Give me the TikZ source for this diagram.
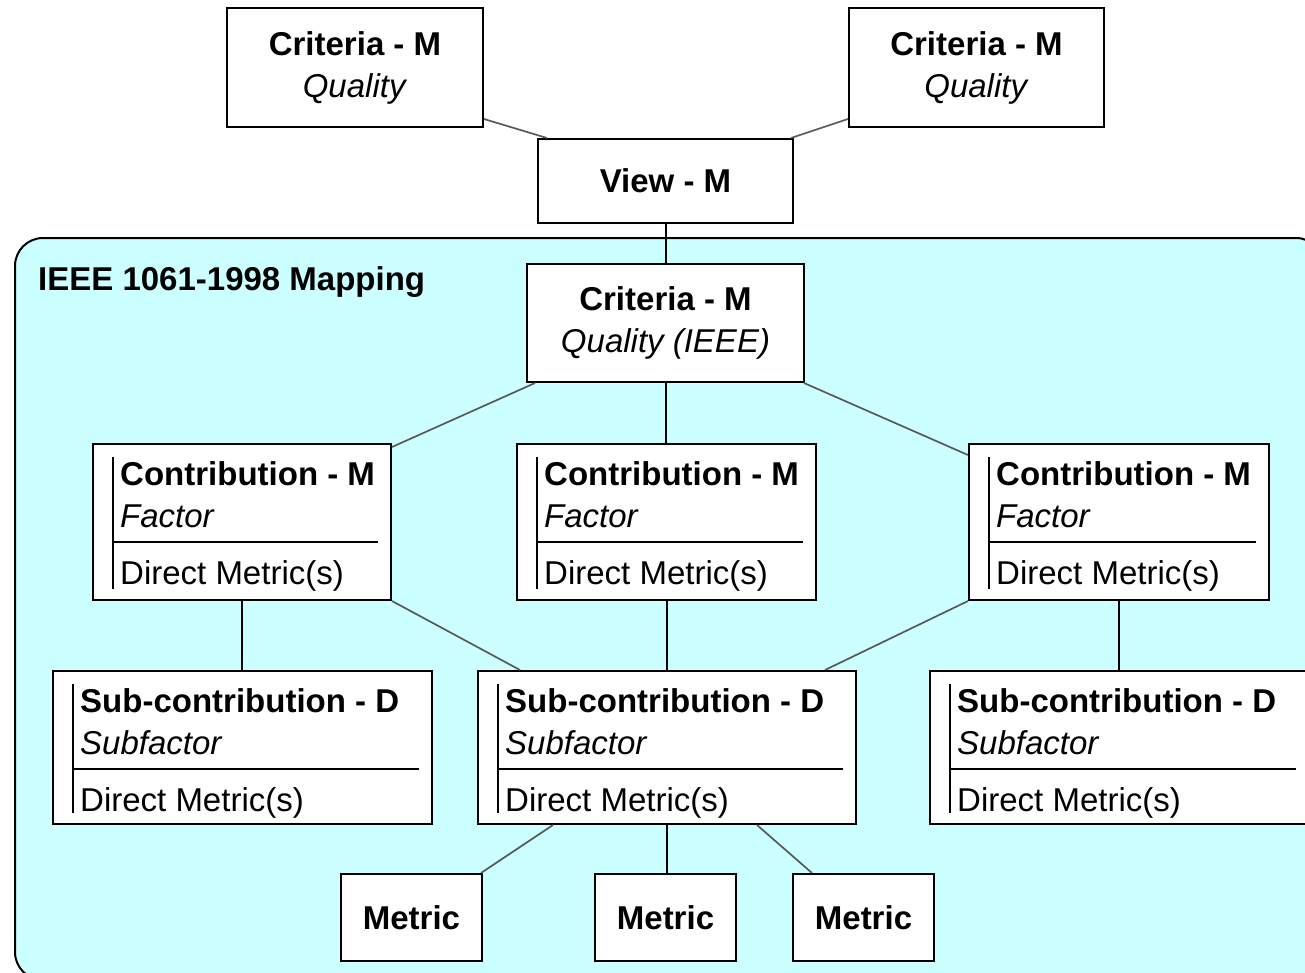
\documentclass[tikz,border=0pt]{standalone}
\usepackage{fontspec}
\setmainfont{Liberation Sans}
\usetikzlibrary{calc}
\definecolor{mapcyan}{RGB}{204,255,255}
\tikzset{
  box/.style={draw=black, line width=2pt, fill=white, inner sep=0pt},
  rule/.style={draw=black, line width=2pt},
  link/.style={draw=black, line width=2pt},
  slant/.style={draw=black!65, line width=1.7pt},
  tplain/.style={font=\fontsize{33}{42}\selectfont},
  tbold/.style={font=\fontsize{33}{42}\selectfont\bfseries},
  tital/.style={font=\fontsize{33}{42}\selectfont\itshape},
  lbl/.style={inner sep=0pt, anchor=base west},
}
% class-like box: name, left, top, width, height, title, subtitle
\newcommand\classbox[7]{%
  \node[box, anchor=north west, minimum width=#4pt, minimum height=#5pt] (#1) at (#2,#3) {};
  \draw[rule] ($(#1.north west)+(21,14)$) -- ($(#1.south west)+(21,-12)$);
  \draw[rule] ($(#1.north west)+(21,99)$) -- ($(#1.north east)+(-14,99)$);
  \node[lbl,tbold] (#1-t) at ($(#1.north west)+(28,42)$) {#6};
  \node[lbl,tital] (#1-s) at ($(#1.north west)+(28,84)$) {#7};
  \node[lbl,tplain] (#1-d) at ($(#1.north west)+(28,141)$) {Direct Metric(s)};
}
\begin{document}
\begin{tikzpicture}[x=1pt,y=-1pt]
\useasboundingbox (0,0) rectangle (1305,972);

% mapping region
\draw[fill=mapcyan, line width=2pt, rounded corners=28pt] (15,238) rectangle (1324,980);
\node[lbl,tbold] (maptitle) at (38,290) {IEEE 1061-1998 Mapping};

% top level
\node[box, minimum width=256pt, minimum height=119pt, align=center, tplain] (critA) at (355,67.5)
  {\textbf{Criteria - M}\\\textit{Quality}};
\node[box, minimum width=255pt, minimum height=119pt, align=center, tplain] (critB) at (976.5,67.5)
  {\textbf{Criteria - M}\\\textit{Quality}};
\node[box, minimum width=255pt, minimum height=84pt, tbold] (view) at (665.5,181) {View - M};
\node[box, minimum width=277pt, minimum height=118pt, align=center, tplain] (cie) at (665.5,323)
  {\textbf{Criteria - M}\\\textit{Quality (IEEE)}};

% factors
\classbox{c1}{92}{443}{298}{156}{Contribution - M}{Factor}
\classbox{c2}{516}{443}{299}{156}{Contribution - M}{Factor}
\classbox{c3}{968}{443}{300}{156}{Contribution - M}{Factor}

% subfactors
\classbox{s1}{52}{670}{379}{153}{Sub-contribution - D}{Subfactor}
\classbox{s2}{477}{670}{378}{153}{Sub-contribution - D}{Subfactor}
\classbox{s3}{929}{670}{379}{153}{Sub-contribution - D}{Subfactor}

% metrics
\node[box, minimum width=141pt, minimum height=87pt, tbold] (m1) at (411.5,917.5) {Metric};
\node[box, minimum width=141pt, minimum height=87pt, tbold] (m2) at (665.5,917.5) {Metric};
\node[box, minimum width=141pt, minimum height=87pt, tbold] (m3) at (863.5,917.5) {Metric};

% connectors
\draw[slant] ($(critA.south east)+(0,-9)$) -- ($(view.north west)+(10,0)$);
\draw[slant] ($(critB.south west)+(0,-9)$) -- ($(view.north east)+(-3,0)$);
\draw[link] (view.south) -- (cie.north);
\draw[slant] ($(cie.south west)+(9,0)$) -- ($(c1.north east)+(0,4)$);
\draw[link] (cie.south) -- (cie.south |- c2.north);
\draw[slant] ($(cie.south east)+(-1,0)$) -- ($(c3.north west)+(0,12)$);
\draw[link] (c1.south) -- (c1.south |- s1.north);
\draw[slant] (c1.south east) -- ($(s2.north west)+(43,0)$);
\draw[link] (c2.south) -- (c2.south |- s2.north);
\draw[slant] (c3.south west) -- ($(s2.north east)+(-32,0)$);
\draw[link] (c3.south) -- (c3.south |- s3.north);
\draw[slant] ($(s2.south west)+(76,0)$) -- ($(m1.north east)+(-2,0)$);
\draw[link] (s2.south) -- (s2.south |- m2.north);
\draw[slant] ($(s2.south west)+(280,0)$) -- ($(m3.north west)+(20,0)$);
\end{tikzpicture}
\end{document}
